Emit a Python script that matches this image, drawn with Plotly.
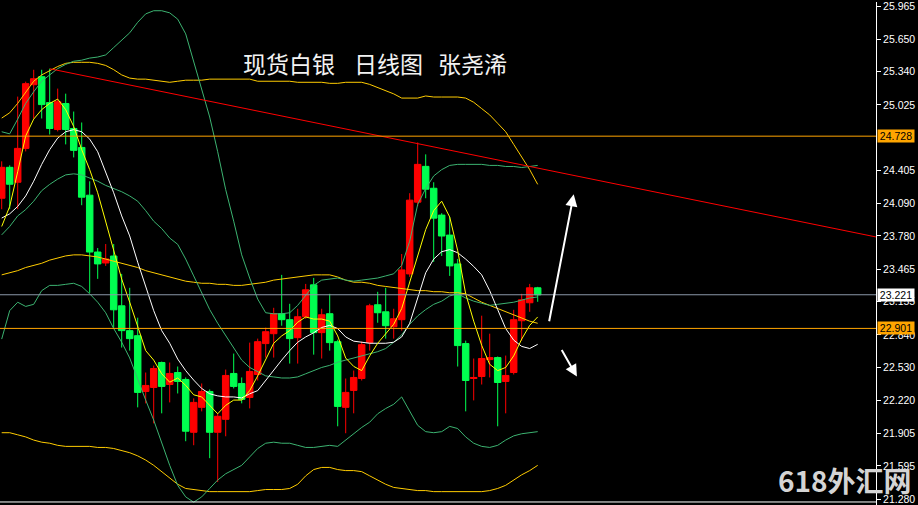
import plotly.graph_objects as go

# ---------------- data ----------------
idx = list(range(68))

open_ = [24.138, 24.432, 24.290, 24.612, 25.217, 25.293, 25.047, 24.791, 25.038, 24.801,
         24.621, 24.167, 23.627, 23.523, 23.589, 23.116, 22.880, 22.832, 22.302, 22.340,
         22.577, 22.368, 22.482, 22.416, 21.914, 22.151, 22.302, 21.914, 22.037, 22.473,
         22.378, 22.245, 22.463, 22.757, 22.851, 23.041, 22.984, 22.813, 23.012, 23.315,
         22.861, 23.041, 22.775, 22.151, 22.312, 22.425, 22.766, 23.126, 23.059, 22.917,
         22.984, 23.419, 24.101, 24.441, 24.233, 23.978, 23.788, 23.514, 22.757, 22.425,
         22.444, 22.605, 22.624, 22.397, 22.482, 22.974, 23.145, 23.287]
high = [24.489, 24.451, 25.104, 25.246, 25.359, 25.359, 25.369, 25.180, 25.132, 24.962,
        24.858, 24.299, 23.665, 23.703, 23.703, 23.419, 23.287, 23.003, 22.482, 22.548,
        22.586, 22.577, 22.539, 22.435, 22.236, 22.378, 22.321, 22.094, 22.510, 22.662,
        22.435, 22.766, 22.804, 22.908, 23.097, 23.410, 23.135, 23.088, 23.324, 23.381,
        23.088, 23.230, 22.794, 22.425, 22.501, 22.775, 23.135, 23.249, 23.287, 23.088,
        23.608, 24.186, 24.668, 24.555, 24.290, 23.996, 23.959, 23.561, 22.785, 22.615,
        23.022, 22.851, 22.634, 22.643, 23.078, 23.230, 23.324, 23.296]
low = [24.034, 24.034, 24.034, 24.583, 24.896, 24.896, 24.744, 24.773, 24.650, 24.526,
       24.072, 23.239, 23.372, 23.495, 22.908, 22.719, 22.690, 22.151, 22.189, 21.999,
       22.094, 22.198, 22.283, 21.829, 21.791, 22.113, 21.668, 21.441, 21.876, 22.331,
       22.189, 22.141, 22.406, 22.624, 22.624, 22.927, 22.567, 22.567, 22.993, 22.652,
       22.615, 22.690, 21.971, 21.905, 22.094, 22.406, 22.690, 22.955, 22.804, 22.804,
       22.880, 23.391, 24.063, 24.138, 23.533, 23.589, 23.400, 22.539, 22.113, 22.217,
       22.368, 22.435, 21.971, 22.094, 22.463, 22.785, 23.059, 23.154]
close = [24.432, 24.271, 24.612, 25.227, 25.274, 25.028, 24.801, 25.056, 24.791, 24.593,
         24.148, 23.627, 23.514, 23.561, 23.078, 22.880, 22.804, 22.293, 22.359, 22.520,
         22.350, 22.473, 22.397, 21.924, 22.198, 22.302, 21.914, 22.066, 22.454, 22.350,
         22.227, 22.492, 22.775, 22.870, 23.041, 22.984, 22.804, 23.012, 23.268, 22.861,
         23.031, 22.766, 22.160, 22.293, 22.435, 22.747, 23.116, 23.050, 22.927, 22.993,
         23.457, 24.120, 24.460, 24.224, 23.949, 23.779, 23.495, 22.738, 22.406, 22.435,
         22.615, 22.624, 22.387, 22.454, 22.984, 23.173, 23.287, 23.220]

ma_fast = [23.87, 24.06, 24.39, 24.73, 24.89, 24.98, 25.04, 25.08, 24.98, 24.82,
           24.60, 24.41, 24.19, 23.92, 23.64, 23.37, 23.15, 22.92, 22.69, 22.60,
           22.47, 22.39, 22.43, 22.36, 22.27, 22.25, 22.17, 22.09, 22.17, 22.22,
           22.22, 22.31, 22.45, 22.61, 22.76, 22.83, 22.88, 22.96, 23.01, 22.99,
           22.99, 22.97, 22.83, 22.62, 22.54, 22.50, 22.64, 22.76, 22.85, 22.94,
           23.09, 23.34, 23.59, 23.84, 24.02, 24.11, 23.96, 23.64, 23.23, 22.97,
           22.74, 22.56, 22.50, 22.53, 22.64, 22.80, 22.93, 23.01]
ma_slow = [23.95, 23.99, 24.06, 24.16, 24.30, 24.46, 24.60, 24.71, 24.77, 24.79,
           24.77, 24.70, 24.58, 24.39, 24.19, 23.97, 23.78, 23.53, 23.29, 23.07,
           22.88, 22.76, 22.61, 22.50, 22.41, 22.33, 22.28, 22.26, 22.25, 22.25,
           22.24, 22.28, 22.31, 22.41, 22.50, 22.60, 22.69, 22.77, 22.82, 22.86,
           22.91, 22.93, 22.90, 22.82, 22.78, 22.77, 22.76, 22.76, 22.76, 22.77,
           22.82, 22.95, 23.18, 23.43, 23.56, 23.63, 23.65, 23.62, 23.56, 23.49,
           23.41, 23.26, 23.08, 22.90, 22.79, 22.73, 22.71, 22.75]

band_green_up = [24.77, 24.75, 24.89, 25.04, 25.15, 25.25, 25.31, 25.37, 25.41, 25.44,
                 25.45, 25.47, 25.48, 25.50, 25.57, 25.64, 25.71, 25.81, 25.89, 25.92,
                 25.92, 25.90, 25.84, 25.70, 25.44, 25.18, 24.91, 24.58, 24.22, 23.92,
                 23.60, 23.38, 23.18, 23.05, 23.04, 23.04, 23.05, 23.12, 23.22, 23.31,
                 23.36, 23.37, 23.38, 23.36, 23.35, 23.36, 23.37, 23.38, 23.40, 23.42,
                 23.50, 23.73, 24.08, 24.23, 24.35, 24.41, 24.45, 24.46, 24.46, 24.46,
                 24.46, 24.45, 24.45, 24.44, 24.44, 24.43, 24.44, 24.45]
band_green_mid = [23.79, 23.87, 23.97, 24.03, 24.11, 24.21, 24.27, 24.32, 24.36, 24.37,
                  24.36, 24.33, 24.30, 24.26, 24.23, 24.20, 24.16, 24.11, 24.02, 23.92,
                  23.85, 23.76, 23.70, 23.56, 23.40, 23.24, 23.08, 22.95, 22.83, 22.71,
                  22.60, 22.53, 22.49, 22.45, 22.44, 22.43, 22.43, 22.44, 22.47, 22.50,
                  22.53, 22.55, 22.58, 22.60, 22.62, 22.64, 22.66, 22.68, 22.71, 22.77,
                  22.84, 22.94, 23.02, 23.08, 23.13, 23.16, 23.21, 23.23, 23.19, 23.16,
                  23.14, 23.12, 23.13, 23.14, 23.15, 23.17, 23.19, 23.20]
band_green_low = [22.80, 23.07, 23.15, 23.11, 23.13, 23.26, 23.31, 23.31, 23.32, 23.33,
                  23.30, 23.23, 23.15, 23.05, 22.90, 22.77, 22.62, 22.41, 22.22, 22.03,
                  21.81, 21.60, 21.41, 21.30, 21.25, 21.30, 21.38, 21.46, 21.52, 21.56,
                  21.60, 21.68, 21.76, 21.81, 21.82, 21.81, 21.81, 21.79, 21.77, 21.77,
                  21.78, 21.79, 21.78, 21.84, 21.90, 21.96, 22.01, 22.09, 22.14, 22.18,
                  22.25, 22.12, 21.98, 21.92, 21.91, 21.92, 21.97, 21.95, 21.87, 21.81,
                  21.78, 21.77, 21.79, 21.84, 21.88, 21.90, 21.91, 21.92]

band_gold_up = [24.90, 24.95, 25.04, 25.15, 25.25, 25.31, 25.35, 25.39, 25.42, 25.43,
                25.43, 25.43, 25.42, 25.40, 25.36, 25.31, 25.28, 25.27, 25.27, 25.26,
                25.25, 25.24, 25.25, 25.26, 25.26, 25.26, 25.27, 25.27, 25.27, 25.27,
                25.27, 25.27, 25.25, 25.25, 25.25, 25.25, 25.25, 25.24, 25.24, 25.24,
                25.24, 25.23, 25.23, 25.24, 25.24, 25.24, 25.22, 25.19, 25.16, 25.13,
                25.09, 25.09, 25.09, 25.11, 25.10, 25.10, 25.10, 25.10, 25.09, 25.05,
                24.99, 24.93, 24.85, 24.77, 24.65, 24.53, 24.41, 24.27]
band_gold_mid = [23.41, 23.43, 23.45, 23.48, 23.50, 23.52, 23.55, 23.57, 23.59, 23.60,
                 23.60, 23.59, 23.58, 23.56, 23.54, 23.52, 23.50, 23.48, 23.45, 23.43,
                 23.41, 23.39, 23.37, 23.35, 23.34, 23.33, 23.33, 23.32, 23.32, 23.31,
                 23.31, 23.32, 23.33, 23.34, 23.36, 23.37, 23.38, 23.39, 23.40, 23.41,
                 23.41, 23.41, 23.39, 23.36, 23.34, 23.34, 23.33, 23.31, 23.30, 23.29,
                 23.28, 23.27, 23.26, 23.26, 23.25, 23.25, 23.24, 23.24, 23.23, 23.19,
                 23.15, 23.12, 23.09, 23.06, 23.03, 23.00, 22.97, 22.95]
band_gold_low = [21.91, 21.91, 21.89, 21.87, 21.84, 21.82, 21.81, 21.79, 21.78, 21.78,
                 21.78, 21.78, 21.77, 21.77, 21.76, 21.74, 21.72, 21.69, 21.65, 21.60,
                 21.54, 21.48, 21.42, 21.38, 21.37, 21.36, 21.35, 21.35, 21.35, 21.35,
                 21.35, 21.35, 21.36, 21.37, 21.37, 21.37, 21.38, 21.42, 21.50, 21.56,
                 21.58, 21.58, 21.56, 21.55, 21.55, 21.54, 21.50, 21.46, 21.42, 21.39,
                 21.38, 21.37, 21.36, 21.36, 21.35, 21.35, 21.35, 21.35, 21.35, 21.35,
                 21.35, 21.36, 21.38, 21.41, 21.46, 21.51, 21.55, 21.60]

trend_x = [6, 109.3]
trend_y = [25.369, 23.77]

level_resistance = 24.728
level_support = 22.901
last_price = 23.221

tick_vals = [25.965, 25.650, 25.340, 25.025, 24.405, 24.090, 23.780, 23.465,
             23.155, 22.840, 22.530, 22.220, 21.905, 21.595, 21.280]
tick_text = ["%.3f" % v for v in tick_vals]

arrow_up_tail = (68.4, 22.955)
arrow_up_head = (71.5, 24.176)
arrow_dn_tail = (69.9, 22.710)
arrow_dn_head = (71.9, 22.443)

title_parts = ["现货白银", "日线图", "张尧浠"]
title_pos_x = [35.9, 48.3, 58.9]
title_y = 25.42
watermark = "618外汇网"

x_range = [-0.2125, 109.29]
y_range = [21.223, 26.003]

# ---------------- figure ----------------
RED = "#ff0000"
GREEN = "#00ff50"
fig = go.Figure()

fig.add_trace(go.Candlestick(
    x=idx, open=open_, high=high, low=low, close=close,
    increasing=dict(line=dict(color=RED, width=1), fillcolor=RED),
    decreasing=dict(line=dict(color=GREEN, width=1), fillcolor=GREEN),
    whiskerwidth=0, hoverinfo="skip", showlegend=False))

def add_line(y, color):
    fig.add_trace(go.Scatter(x=idx, y=y, mode="lines",
                             line=dict(color=color, width=1),
                             hoverinfo="skip", showlegend=False))

GOLD = "#ffcc00"
SEA = "#3cb371"
add_line(band_gold_up, GOLD)
add_line(band_gold_mid, GOLD)
add_line(band_gold_low, GOLD)
add_line(band_green_up, SEA)
add_line(band_green_mid, SEA)
add_line(band_green_low, SEA)
add_line(ma_slow, "#ffffff")
add_line(ma_fast, "#ffff00")

fig.add_trace(go.Scatter(x=trend_x, y=trend_y, mode="lines",
                         line=dict(color=RED, width=1),
                         hoverinfo="skip", showlegend=False))

shapes = [
    dict(type="line", xref="paper", x0=0, x1=1, yref="y",
         y0=level_resistance, y1=level_resistance,
         line=dict(color="#ffa500", width=1), layer="above"),
    dict(type="line", xref="paper", x0=0, x1=1, yref="y",
         y0=level_support, y1=level_support,
         line=dict(color="#ffa500", width=1), layer="above"),
    dict(type="line", xref="paper", x0=0, x1=1, yref="y",
         y0=last_price, y1=last_price,
         line=dict(color="#8a97a8", width=1), layer="above"),
    dict(type="line", xref="paper", x0=0, x1=1, yref="paper",
         y0=0.006, y1=0.006, line=dict(color="#ffffff", width=1), layer="above"),
]

LABEL_FONT = dict(family="Liberation Sans, Arial, sans-serif", size=10.5)
annotations = []
for val, bg in [(level_resistance, "#ffa500"), (last_price, "#ffffff"),
                (level_support, "#ffa500")]:
    annotations.append(dict(
        xref="paper", x=1, xanchor="left", xshift=1, yref="y", y=val,
        text="%.3f" % val, showarrow=False, bgcolor=bg, borderpad=0,
        font=dict(LABEL_FONT, color="#000000"), width=36, align="center"))

for part, px in zip(title_parts, title_pos_x):
    annotations.append(dict(
        xref="x", x=px, yref="y", y=title_y, text=part, showarrow=False,
        xanchor="center", yanchor="middle",
        font=dict(family="Noto Sans CJK SC", size=23, color="#f2f2f2")))

for tail, head in [(arrow_up_tail, arrow_up_head), (arrow_dn_tail, arrow_dn_head)]:
    annotations.append(dict(
        xref="x", yref="y", axref="x", ayref="y",
        x=head[0], y=head[1], ax=tail[0], ay=tail[1], text="",
        showarrow=True, arrowhead=2, arrowsize=1.2, arrowwidth=2,
        arrowcolor="#ffffff"))

annotations.append(dict(
    xref="paper", yref="paper", x=1.0, y=0.0, xanchor="right", yanchor="bottom",
    xshift=38, yshift=3, text="<b>%s</b>" % watermark, showarrow=False,
    font=dict(family="Noto Sans CJK SC", size=28, color="#d4d4d4")))

fig.update_layout(
    width=918, height=505,
    margin=dict(l=0, r=42, t=0, b=0),
    paper_bgcolor="#000000", plot_bgcolor="#000000",
    boxgap=0.1, boxgroupgap=0.1,
    shapes=shapes, annotations=annotations,
    showlegend=False,
    xaxis=dict(range=x_range, visible=False, rangeslider=dict(visible=False),
               fixedrange=True),
    yaxis=dict(range=y_range, side="right", tickmode="array",
               tickvals=tick_vals, ticktext=tick_text,
               ticks="outside", ticklen=4, tickcolor="#ffffff",
               ticklabeloverflow="allow",
               showline=True, linecolor="#ffffff", linewidth=1,
               showgrid=False, zeroline=False,
               tickfont=dict(LABEL_FONT, color="#ffffff")),
)

fig.write_html(
    "out.html",
    config={"displayModeBar": False},
    post_script="document.body.style.margin='0';document.body.style.background='#000';",
)
